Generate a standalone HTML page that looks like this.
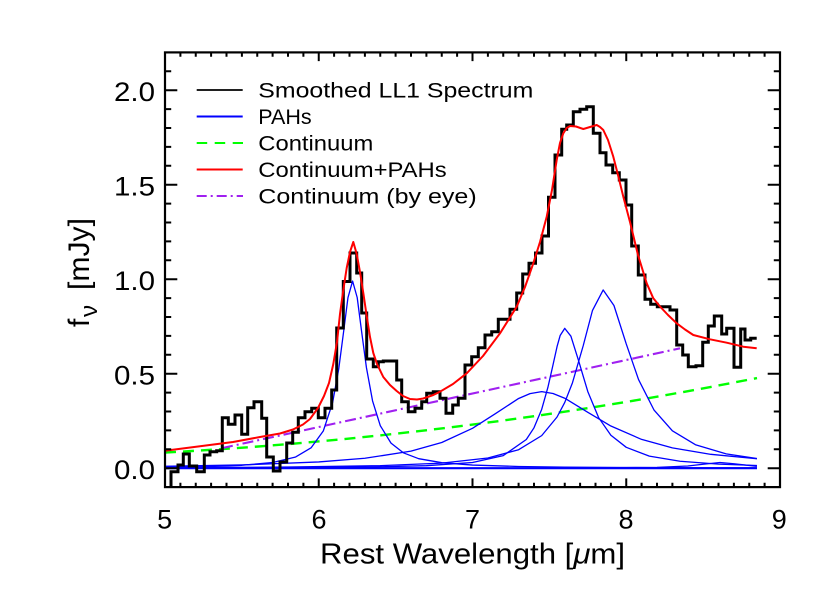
<!DOCTYPE html>
<html>
<head>
<meta charset="utf-8">
<style>
  html, body { margin: 0; padding: 0; background: #ffffff; }
  svg { display: block; }
  text { font-family: "Liberation Sans", "DejaVu Sans", sans-serif; fill: #000; }
</style>
</head>
<body>
<svg width="830" height="593" viewBox="0 0 830 593" xmlns="http://www.w3.org/2000/svg">
  <rect x="0" y="0" width="830" height="593" fill="#ffffff"/>

  <!-- Green continuum (dashed) -->
  <path d="M165,452.51 Q461,436.79 757,378.02" fill="none" stroke="#00ff00" stroke-width="2.4" stroke-dasharray="11 7"/>

  <!-- Purple continuum by eye (dash-dot) -->
  <path d="M222,448.1 L680,348.3" fill="none" stroke="#a020f0" stroke-width="2.1" stroke-dasharray="11 4 2 4"/>

  <!-- Blue PAH components -->
  <g fill="none" stroke="#0000ff" stroke-width="1.3" stroke-linejoin="round">
    <path d="M165,468.2 H757" stroke-width="2.2"/>
    <path d="M165,467.28 L211.13,466.48 L241.88,465.29 L272.63,462.5 L295.69,456.98 L311.06,447.87 L323.36,430.84 L332.59,402.7 L338.74,368.9 L343.35,333.7 L347.96,297.7 L352.58,281.1 L357.19,297.5 L361.8,333 L366.41,367.5 L372.56,400.9 L380.25,425.6 L391.01,443.1 L403.31,452.8 L418.69,458.7 L441.75,462.7 L472.5,465.05 L518.63,466.48 L564.75,467.1 L626.25,467.5 L687.75,467.72 L756.94,467.85"/>
    <path d="M165,466.32 L241.88,464.94 L318.75,461.96 L364.88,458.28 L411,451.16 L441.75,442.5 L472.5,428.33 L495.56,413.53 L518.63,398.48 L530,393.6 L541.69,391.66 L553,393.5 L564.75,398.24 L587.81,412.29 L610.88,426.03 L641.63,439.42 L672.38,447.92 L710.81,454.33 L756.94,458.74"/>
    <path d="M165,467.98 L288,467.66 L364.88,467.07 L426.38,465.71 L472.5,462.48 L503.25,455.63 L526.31,439.49 L534,427.8 L541.69,409.32 L547.84,387.6 L552.45,367.4 L557.06,346.6 L560.14,335.52 L564.75,328.34 L570.9,336.2 L578.59,360.68 L587.81,391.62 L598.58,417.56 L610.88,435.24 L626.25,447.31 L649.31,456.12 L680.06,461.28 L718.5,464.11 L756.94,465.49"/>
    <path d="M165,467.7 L288,467.05 L380.25,465.65 L441.75,463.09 L487.88,458.03 L518.63,449.69 L541.69,435.62 L557.06,417 L564.75,402.45 L572.44,382.83 L583.2,345.75 L592.43,310.61 L603.19,289.97 L613.95,305.5 L626.25,343.93 L638.55,379.58 L653.93,409.89 L672.38,430.83 L695.44,444.71 L726.19,453.89 L756.94,458.57"/>
    <path d="M165,468.2 L549.38,468.1 L657,467.4 L687.75,466 L703.13,464.25 L720.04,462.53 L733.88,463.78 L756.94,466.3"/>
  </g>

  <!-- Black histogram spectrum -->
  <path d="M171,487 V471.7 H178 V465 H183.3 V454 H189.3 V466 H196.7 V471.7 H204.3 V455 H210 V451.7 H216.7 V450.7 H222.3 V417.7 H228.3 V424.3 H235 V415 H241.7 V434.3 H247.7 V407.7 H254 V401.7 H261.7 V418.3 H266.7 V457 H273.3 V471 H280 V462 H286.7 V443 H292.7 V432.3 H298.3 V417.7 H305 V411.7 H311.7 V408.3 H318.3 V417.7 H325 V408.3 H331.7 V390 H336.7 V328 H343.3 V281.5 H350 V253 H356.7 V273 H361.7 V313 H366.7 V359 H373.3 V366.7 H378.3 V361.7 H383.3 V361 H396.7 V380 H401.7 V401.7 H408.3 V411.7 H415 V408.3 H421.7 V401.7 H426.7 V393.3 H433.3 V391.7 H440 V398.3 H446 V413.3 H452.7 V405 H458.3 V398.3 H465 V365 H471.7 V356.7 H478.3 V347.7 H485 V335 H491.7 V331.7 H498.3 V319.3 H510 V309.3 H516.7 V293 H522.7 V274 H529 V263.3 H535.5 V253 H542 V236 H548.5 V197.3 H555 V155 H561.7 V129.3 H566.7 V125 H573.3 V111.7 H580 V109.3 H586.7 V106.7 H593.3 V133.3 H600 V152.7 H606 V165 H612.7 V172.7 H619.3 V180 H626 V205 H631.7 V246 H638.3 V275 H645 V299.3 H650.7 V304.3 H657.3 V306.7 H670 V310 H676.7 V345 H682.7 V355 H688.3 V366.7 H696 V365.7 H702.7 V342.3 H708.3 V326 H714.3 V316 H721.7 V334 H726.7 V328.3 H734 V367.3 H740.7 V329 H745 V340 H750.7 V338.3 H756.7" fill="none" stroke="#000000" stroke-width="3" stroke-linejoin="miter"/>

  <!-- Red continuum + PAHs -->
  <path d="M165,450.7 L200,446.3 L233,442 L260,437 L280,433.5 L293,429.5 L303,424.5 L310,419 L318,408 L324,396 L329,383 L333.3,364 L337,342 L340,314 L343.3,290 L346.7,268 L350,252 L353.3,242 L356.7,254 L360,272 L363.3,293 L366.7,316 L370,337 L373.3,353 L377,364 L383.3,377 L390,385 L396.7,391 L403,396 L410,399 L417,399.5 L423.3,398.5 L433.3,395 L440,391.7 L453,384 L466.7,373.3 L483,356 L500,333.3 L516.7,306.7 L525,287 L533.3,263.3 L540,242 L546.7,216.7 L552,190 L556.7,160 L560,143 L563.3,133.3 L566.7,128 L570,126 L576,126.5 L583.3,129 L590,127 L596.7,125 L600,127 L603.3,130 L608,140 L613.3,156.7 L618,175 L623.3,196.7 L630,222 L638,255 L646.7,283.3 L653.3,298.3 L660,306.5 L668,315 L676.7,323.3 L685,329.5 L693.3,335 L710,339.3 L726.7,342.7 L743.3,346.7 L756.7,348.3" fill="none" stroke="#ff0000" stroke-width="2" stroke-linejoin="round"/>

  <!-- Axes frame -->
  <rect x="165" y="52.4" width="615" height="434.7" fill="none" stroke="#000" stroke-width="2.2"/>

  <!-- Ticks -->
  <g stroke="#000" stroke-width="2" fill="none">
    <path d="M318.75,487.1 v-8.7 M472.5,487.1 v-8.7 M626.25,487.1 v-8.7"/>
    <path d="M180.4,487.1 v-4.4 M195.75,487.1 v-4.4 M211.1,487.1 v-4.4 M226.5,487.1 v-4.4 M241.9,487.1 v-4.4 M257.25,487.1 v-4.4 M272.6,487.1 v-4.4 M288,487.1 v-4.4 M303.4,487.1 v-4.4 M334.1,487.1 v-4.4 M349.5,487.1 v-4.4 M364.9,487.1 v-4.4 M380.25,487.1 v-4.4 M395.6,487.1 v-4.4 M411,487.1 v-4.4 M426.4,487.1 v-4.4 M441.75,487.1 v-4.4 M457.1,487.1 v-4.4 M487.9,487.1 v-4.4 M503.25,487.1 v-4.4 M518.6,487.1 v-4.4 M534,487.1 v-4.4 M549.4,487.1 v-4.4 M564.75,487.1 v-4.4 M580.1,487.1 v-4.4 M595.5,487.1 v-4.4 M610.9,487.1 v-4.4 M641.6,487.1 v-4.4 M657,487.1 v-4.4 M672.4,487.1 v-4.4 M687.75,487.1 v-4.4 M703.1,487.1 v-4.4 M718.5,487.1 v-4.4 M733.9,487.1 v-4.4 M749.25,487.1 v-4.4 M764.6,487.1 v-4.4"/>
    <path d="M318.75,52.4 v8.7 M472.5,52.4 v8.7 M626.25,52.4 v8.7"/>
    <path d="M180.4,52.4 v4.4 M195.75,52.4 v4.4 M211.1,52.4 v4.4 M226.5,52.4 v4.4 M241.9,52.4 v4.4 M257.25,52.4 v4.4 M272.6,52.4 v4.4 M288,52.4 v4.4 M303.4,52.4 v4.4 M334.1,52.4 v4.4 M349.5,52.4 v4.4 M364.9,52.4 v4.4 M380.25,52.4 v4.4 M395.6,52.4 v4.4 M411,52.4 v4.4 M426.4,52.4 v4.4 M441.75,52.4 v4.4 M457.1,52.4 v4.4 M487.9,52.4 v4.4 M503.25,52.4 v4.4 M518.6,52.4 v4.4 M534,52.4 v4.4 M549.4,52.4 v4.4 M564.75,52.4 v4.4 M580.1,52.4 v4.4 M595.5,52.4 v4.4 M610.9,52.4 v4.4 M641.6,52.4 v4.4 M657,52.4 v4.4 M672.4,52.4 v4.4 M687.75,52.4 v4.4 M703.1,52.4 v4.4 M718.5,52.4 v4.4 M733.9,52.4 v4.4 M749.25,52.4 v4.4 M764.6,52.4 v4.4"/>
    <path d="M165,468.2 h12.3 M165,373.7 h12.3 M165,279.2 h12.3 M165,184.7 h12.3 M165,90.2 h12.3"/>
    <path d="M165,449.3 h6.2 M165,430.4 h6.2 M165,411.5 h6.2 M165,392.6 h6.2 M165,354.8 h6.2 M165,335.9 h6.2 M165,317 h6.2 M165,298.1 h6.2 M165,260.3 h6.2 M165,241.4 h6.2 M165,222.5 h6.2 M165,203.6 h6.2 M165,165.8 h6.2 M165,146.9 h6.2 M165,128 h6.2 M165,109.1 h6.2 M165,71.3 h6.2"/>
    <path d="M780,468.2 h-12.3 M780,373.7 h-12.3 M780,279.2 h-12.3 M780,184.7 h-12.3 M780,90.2 h-12.3"/>
    <path d="M780,449.3 h-6.2 M780,430.4 h-6.2 M780,411.5 h-6.2 M780,392.6 h-6.2 M780,354.8 h-6.2 M780,335.9 h-6.2 M780,317 h-6.2 M780,298.1 h-6.2 M780,260.3 h-6.2 M780,241.4 h-6.2 M780,222.5 h-6.2 M780,203.6 h-6.2 M780,165.8 h-6.2 M780,146.9 h-6.2 M780,128 h-6.2 M780,109.1 h-6.2 M780,71.3 h-6.2"/>
  </g>

  <!-- Y tick labels -->
  <g font-size="27">
    <text x="114" y="479" textLength="41" lengthAdjust="spacingAndGlyphs">0.0</text>
    <text x="114" y="384.5" textLength="41" lengthAdjust="spacingAndGlyphs">0.5</text>
    <text x="114" y="290" textLength="41" lengthAdjust="spacingAndGlyphs">1.0</text>
    <text x="114" y="195.5" textLength="41" lengthAdjust="spacingAndGlyphs">1.5</text>
    <text x="114" y="101" textLength="41" lengthAdjust="spacingAndGlyphs">2.0</text>
  </g>

  <!-- X tick labels -->
  <g font-size="27" text-anchor="middle">
    <text x="164.7" y="528.3">5</text>
    <text x="319" y="528.3">6</text>
    <text x="472.5" y="528.3">7</text>
    <text x="626" y="528.3">8</text>
    <text x="779.3" y="528.3">9</text>
  </g>

  <!-- X axis title -->
  <text x="320" y="563.5" font-size="29" textLength="305" lengthAdjust="spacingAndGlyphs">Rest Wavelength [<tspan font-style="italic">μ</tspan>m]</text>

  <!-- Y axis title (rotated) -->
  <g transform="translate(89,327) rotate(-90)">
    <text x="0" y="0" font-size="30">f</text>
    <text x="10" y="8" font-size="24">ν</text>
    <text x="37" y="0" font-size="30" textLength="72" lengthAdjust="spacingAndGlyphs">[mJy]</text>
  </g>

  <!-- Legend -->
  <g fill="none">
    <path d="M196.7,90 H242.7" stroke="#000" stroke-width="1.8"/>
    <path d="M196.7,116.5 H242.7" stroke="#0000ff" stroke-width="2"/>
    <path d="M196.7,143 H243" stroke="#00ff00" stroke-width="2" stroke-dasharray="10.5 7.5"/>
    <path d="M196.7,169.5 H242.7" stroke="#ff0000" stroke-width="2"/>
    <path d="M196.7,196 H243" stroke="#a020f0" stroke-width="2" stroke-dasharray="10 4 2 4"/>
  </g>
  <g font-size="21.5">
    <text x="258.3" y="97.5" textLength="275" lengthAdjust="spacingAndGlyphs">Smoothed LL1 Spectrum</text>
    <text x="258.3" y="124" textLength="53.4" lengthAdjust="spacingAndGlyphs">PAHs</text>
    <text x="258.3" y="150.5" textLength="115" lengthAdjust="spacingAndGlyphs">Continuum</text>
    <text x="258.3" y="177" textLength="188.4" lengthAdjust="spacingAndGlyphs">Continuum+PAHs</text>
    <text x="258.3" y="203.3" textLength="218.4" lengthAdjust="spacingAndGlyphs">Continuum (by eye)</text>
  </g>
</svg>
</body>
</html>
